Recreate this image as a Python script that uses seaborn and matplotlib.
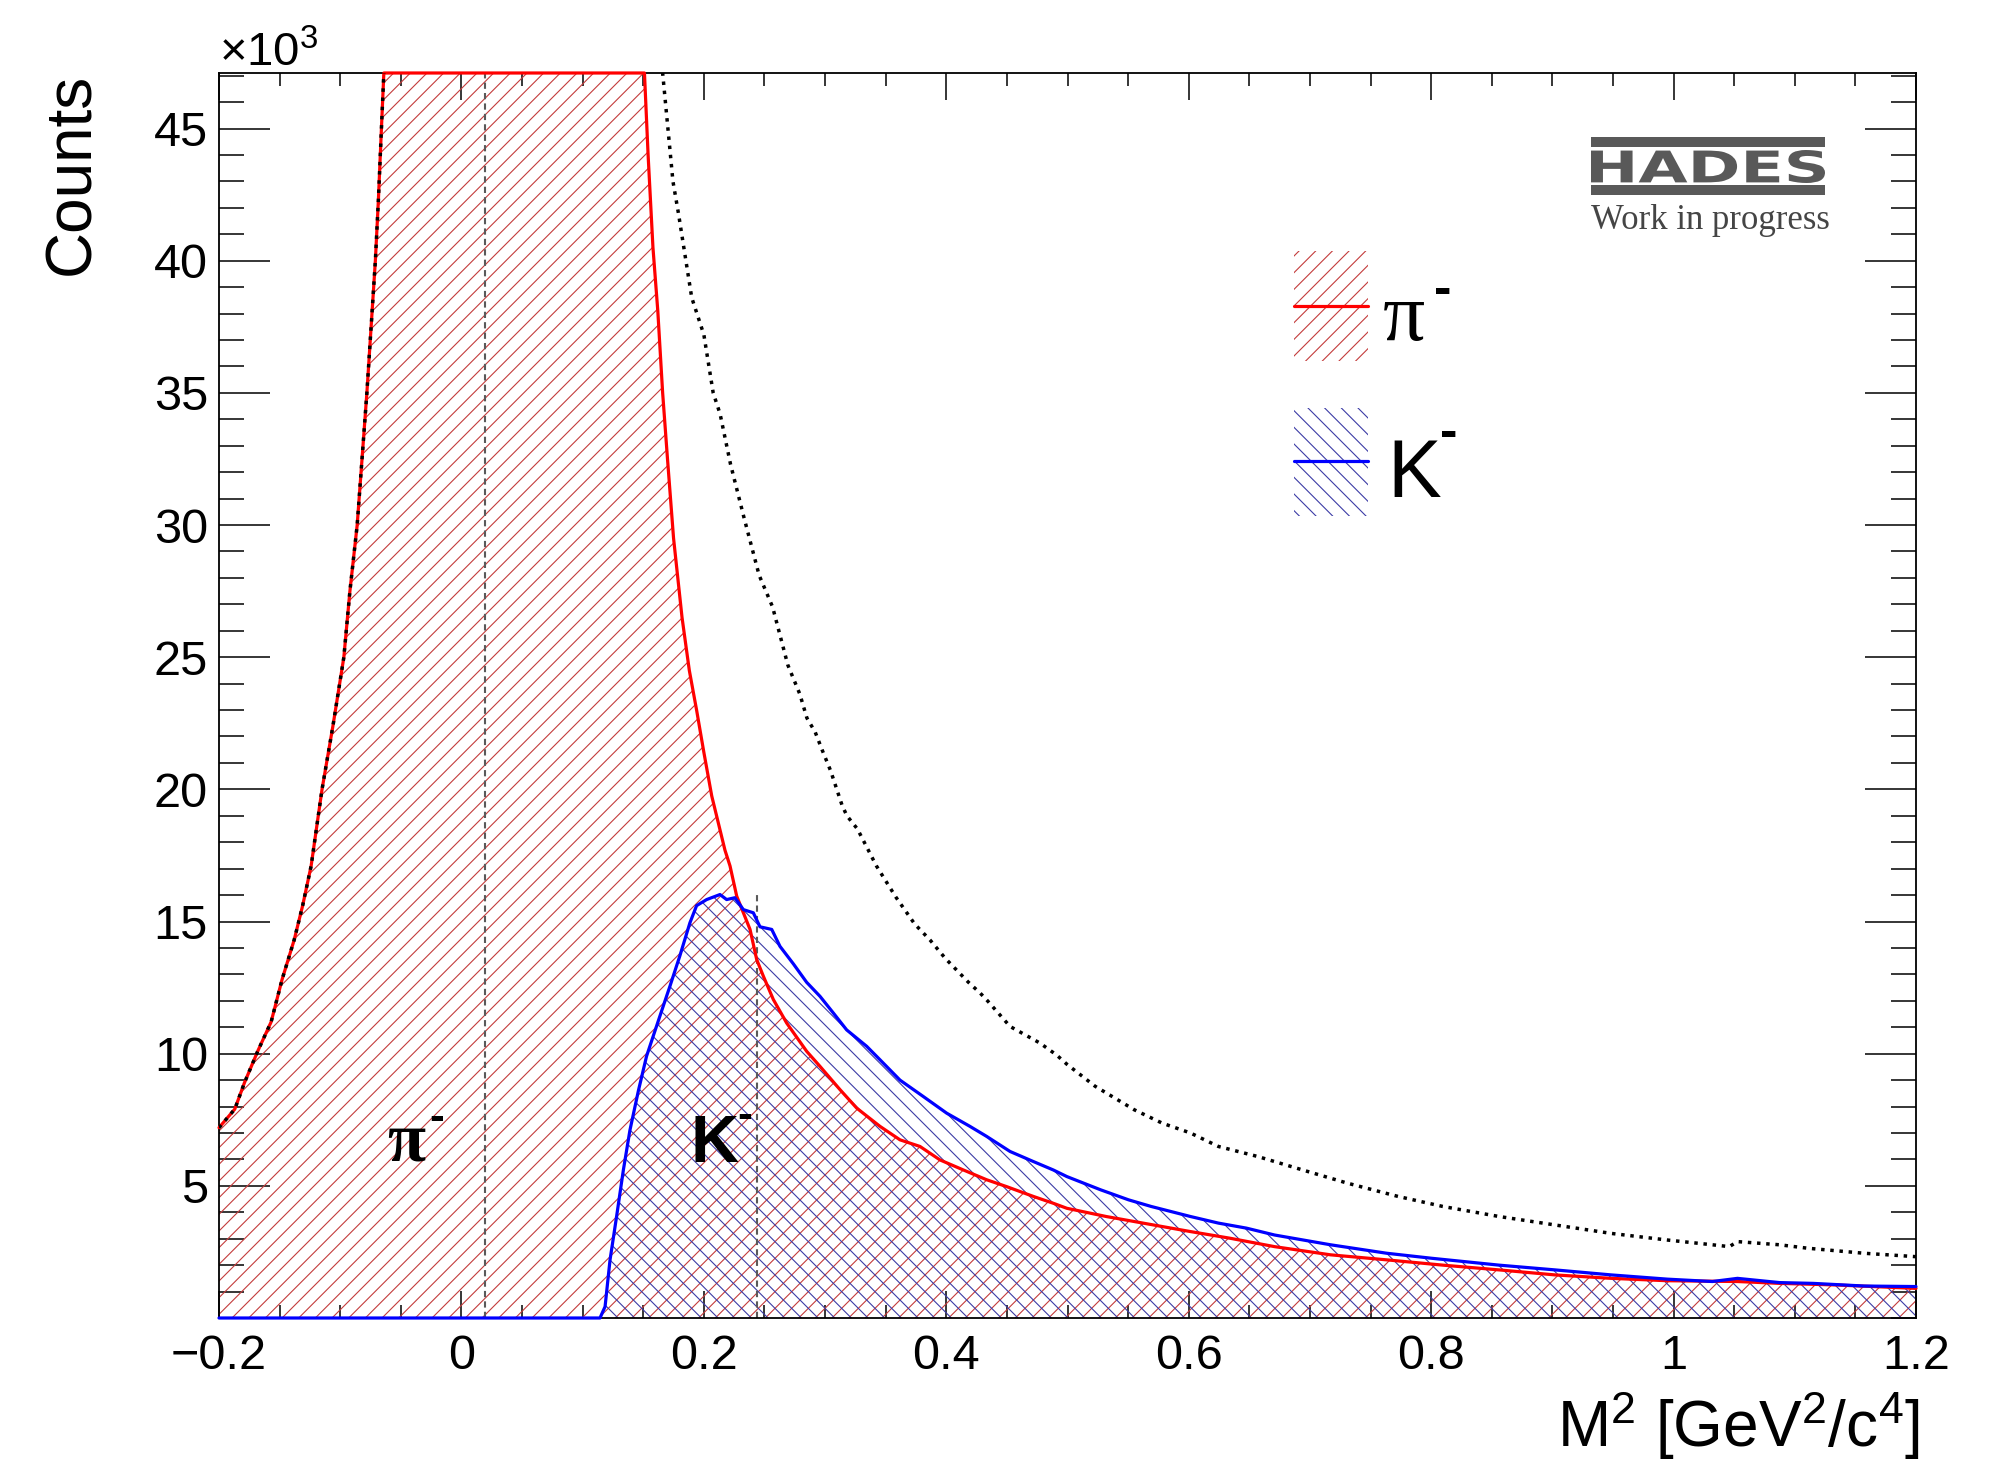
import numpy as np
import matplotlib
matplotlib.use("Agg")
import matplotlib.pyplot as plt
import seaborn as sns
from matplotlib.ticker import MultipleLocator, FixedLocator
from matplotlib.patches import Rectangle, PathPatch
from matplotlib.lines import Line2D
from matplotlib.textpath import TextPath
from matplotlib.font_manager import FontProperties
from matplotlib.transforms import Affine2D

# ---------------------------------------------------------------------------
# Squared-mass spectra (M^2 in GeV^2/c^4, counts in units of 10^3)
# ---------------------------------------------------------------------------
pion_m2 = [-0.200, -0.187, -0.179, -0.168, -0.157, -0.148, -0.138, -0.131, -0.124,
           -0.115, -0.106, -0.097, -0.092, -0.086, -0.082, -0.078, -0.0745, -0.071,
           -0.0685, -0.066, -0.064, -0.050, -0.020, 0.020, 0.060, 0.100, 0.130, 0.148,
           0.151, 0.154, 0.158, 0.162, 0.166, 0.170, 0.175, 0.182, 0.188, 0.194, 0.200,
           0.2065, 0.2174, 0.2216, 0.2271, 0.2326, 0.2381, 0.2436, 0.2491, 0.2573,
           0.2683, 0.2848, 0.2958, 0.3123, 0.3261, 0.3453, 0.3618, 0.3783, 0.3948,
           0.4141, 0.4333, 0.4498, 0.4718, 0.4883, 0.4995, 0.5319, 0.555, 0.5782,
           0.6014, 0.6338, 0.6708, 0.717, 0.7633, 0.8096, 0.856, 0.9022, 0.9486,
           0.9949, 1.0527, 1.0874, 1.134, 1.200]
pion_counts = [7.2, 7.9, 8.9, 10.1, 11.2, 12.8, 14.3, 15.6, 17.1,
               20.0, 22.4, 25.0, 27.5, 30.0, 32.5, 35.0, 37.5, 40.0,
               42.3, 45.0, 47.1, 58.0, 85.0, 110.0, 95.0, 72.0, 56.0, 48.5,
               47.1, 44.0, 40.5, 38.1, 35.0, 32.5, 29.5, 26.5, 24.5, 23.0, 21.4,
               19.75, 17.7, 17.1, 15.96, 15.33, 14.7, 13.56, 12.93, 12.05,
               11.16, 10.09, 9.52, 8.64, 7.94, 7.25, 6.74, 6.49, 5.98,
               5.6, 5.23, 4.97, 4.6, 4.34, 4.15, 3.84, 3.65, 3.46,
               3.27, 3.02, 2.7, 2.39, 2.2, 2.0, 1.82, 1.63, 1.5,
               1.41, 1.38, 1.31, 1.25, 1.12]

kaon_m2 = [-0.200, 0.1143, 0.1185, 0.1226, 0.128, 0.1336, 0.139, 0.146, 0.1527,
           0.1582, 0.1665, 0.172, 0.1802, 0.1885, 0.194, 0.2023, 0.2133, 0.2188,
           0.2256, 0.2326, 0.2408, 0.2463, 0.256, 0.2628, 0.2738, 0.2848, 0.2958,
           0.3068, 0.3178, 0.3343, 0.3453, 0.3618, 0.381, 0.4003, 0.4195, 0.4333,
           0.4526, 0.4718, 0.4883, 0.4995, 0.5273, 0.5504, 0.569, 0.6014, 0.6245,
           0.6476, 0.6708, 0.717, 0.7633, 0.8004, 0.856, 0.9022, 0.9486, 0.9949,
           1.032, 1.0527, 1.0874, 1.1152, 1.157, 1.200]
kaon_counts = [0.0, 0.0, 0.43, 2.2, 3.84, 5.6, 7.1, 8.6, 9.9,
               10.66, 11.8, 12.55, 13.7, 14.95, 15.6, 15.83, 16.02, 15.83,
               15.9, 15.45, 15.33, 14.8, 14.7, 14.06, 13.4, 12.7, 12.17,
               11.54, 10.9, 10.28, 9.77, 9.0, 8.38, 7.75, 7.25, 6.87,
               6.3, 5.92, 5.6, 5.35, 4.85, 4.47, 4.22, 3.84, 3.59,
               3.4, 3.14, 2.77, 2.45, 2.26, 2.0, 1.82, 1.63, 1.47,
               1.38, 1.5, 1.34, 1.31, 1.21, 1.19]

total_m2 = [-0.200, -0.187, -0.179, -0.168, -0.157, -0.148, -0.138, -0.131, -0.124,
            -0.115, -0.106, -0.097, -0.092, -0.086, -0.082, -0.078, -0.0745, -0.071,
            -0.0685, -0.066, -0.064, -0.050, -0.020, 0.020, 0.060, 0.100, 0.130, 0.155,
            0.166, 0.1745, 0.179, 0.190, 0.200, 0.2077, 0.2134, 0.222, 0.233, 0.2456,
            0.2567, 0.2693, 0.2792, 0.285, 0.2919, 0.2975, 0.3046, 0.314, 0.318,
            0.3267, 0.3424, 0.3583, 0.374, 0.3866, 0.3993, 0.4183, 0.4278, 0.434,
            0.4526, 0.4773, 0.491, 0.4995, 0.5227, 0.555, 0.5782, 0.6014, 0.6245,
            0.6569, 0.694, 0.731, 0.7726, 0.8096, 0.856, 0.9022, 0.9486, 0.9949,
            1.032, 1.046, 1.0527, 1.0874, 1.1106, 1.157, 1.200]
total_counts = [7.2, 7.9, 8.9, 10.1, 11.2, 12.8, 14.3, 15.6, 17.1,
                20.0, 22.4, 25.0, 27.5, 30.0, 32.5, 35.0, 37.5, 40.0,
                42.3, 45.0, 47.1, 58.0, 85.0, 110.0, 95.0, 72.0, 62.0, 53.0,
                47.1, 43.0, 41.8, 38.6, 37.2, 35.0, 34.2, 32.3, 30.3, 28.1,
                26.9, 24.7, 23.6, 22.7, 22.16, 21.5, 20.7, 19.4, 19.0,
                18.5, 17.1, 15.93, 14.9, 14.3, 13.6, 12.7, 12.3, 12.0,
                11.03, 10.4, 9.95, 9.6, 8.77, 7.88, 7.37, 7.0, 6.49,
                6.11, 5.6, 5.1, 4.6, 4.22, 3.84, 3.52, 3.2, 2.95,
                2.77, 2.7, 2.89, 2.77, 2.64, 2.45, 2.32]

# nominal squared masses of the two species
M2_PION = 0.0195
M2_KAON = 0.2437

x_ticks = [-0.2, 0.0, 0.2, 0.4, 0.6, 0.8, 1.0, 1.2]
x_tick_labels = ["\u22120.2", "0", "0.2", "0.4", "0.6", "0.8", "1", "1.2"]
y_ticks = [5, 10, 15, 20, 25, 30, 35, 40, 45]

X_RANGE = (-0.2, 1.2)
Y_MAX = 47.1

# ---------------------------------------------------------------------------
sns.set_theme(style="ticks")
plt.rcParams["font.family"] = ["Liberation Sans", "DejaVu Sans"]
plt.rcParams["mathtext.fontset"] = "custom"
plt.rcParams["mathtext.rm"] = "Liberation Sans"
plt.rcParams["mathtext.it"] = "Liberation Sans:italic"
plt.rcParams["mathtext.bf"] = "Liberation Sans:bold"
plt.rcParams["hatch.linewidth"] = 0.8
plt.rcParams["axes.edgecolor"] = "black"
plt.rcParams["axes.linewidth"] = 1.3

W, H = 1999, 1477
fig = plt.figure(figsize=(W / 100, H / 100), dpi=100)
fig.patch.set_facecolor("white")
ax = fig.add_axes([219 / W, 1 - 1318 / H, (1916 - 219) / W, (1318 - 73) / H])
ax.set_facecolor("white")


def fx(px):
    return px / W


def fy(py):
    return 1 - py / H


RED = "#ff0000"
BLUE = "#0000ff"
PI_HATCH = "#c43c3c"
K_HATCH = "#3c3ca6"
MARK_GREY = "#5a5a5a"
SERIF = ["Liberation Serif", "DejaVu Serif"]

pion_draw = np.minimum(np.array(pion_counts), Y_MAX)

# hatched areas
ax.fill_between(pion_m2, 0, pion_draw, facecolor="none", edgecolor=PI_HATCH,
                hatch="//", linewidth=0, zorder=1)
ax.fill_between(kaon_m2, 0, kaon_counts, facecolor="none", edgecolor=K_HATCH,
                hatch="\\\\", linewidth=0, zorder=1.1)

# nominal mass markers
ax.axvline(M2_PION, color=MARK_GREY, lw=1.5, ls=(0, (3, 2)), zorder=1.5)
ax.vlines(M2_KAON, 0, max(kaon_counts), color=MARK_GREY, lw=1.5,
          linestyles=[(0, (3, 2))], zorder=1.5)

# outlines
sns.lineplot(x=pion_m2, y=pion_draw, ax=ax, color=RED, lw=2.3, sort=False,
             estimator=None, zorder=4, clip_on=False)
sns.lineplot(x=kaon_m2, y=kaon_counts, ax=ax, color=BLUE, lw=2.3, sort=False,
             estimator=None, zorder=4.5, clip_on=False)
sns.lineplot(x=total_m2, y=total_counts, ax=ax, color="black", lw=2.5, ls=":",
             sort=False, estimator=None, zorder=5)

ax.set_xlim(*X_RANGE)
ax.set_ylim(0, Y_MAX)

# ticks on all four sides, pointing inwards
ax.xaxis.set_major_locator(FixedLocator(x_ticks))
ax.set_xticklabels(x_tick_labels)
ax.xaxis.set_minor_locator(MultipleLocator(0.05))
ax.set_yticks(y_ticks)
ax.set_yticklabels([str(v) for v in y_ticks])
ax.yaxis.set_minor_locator(MultipleLocator(1))
ax.tick_params(axis="y", which="major", direction="in", length=36.7, width=1.1,
               left=True, right=True, labelsize=35, pad=8, color="black")
ax.tick_params(axis="y", which="minor", direction="in", length=18, width=1.1,
               left=True, right=True, color="black")
ax.tick_params(axis="x", which="major", direction="in", length=19.4, width=1.1,
               top=True, bottom=True, labelsize=35, pad=11.5, color="black")
ax.tick_params(axis="x", which="minor", direction="in", length=9.4, width=1.1,
               top=True, bottom=True, color="black")
for lab in ax.get_xticklabels() + ax.get_yticklabels():
    lab.set_color("black")
for sp in ax.spines.values():
    sp.set_visible(True)
    sp.set_color("black")
    sp.set_zorder(3)

# axis titles
ax.set_ylabel("Counts", fontsize=46, color="black", loc="top")
ax.yaxis.set_label_coords(-0.069, 1.0)
ax.set_xlabel("M$^{2}$ [GeV$^{2}$/c$^{4}$]", fontsize=46, color="black", loc="right")
ax.xaxis.set_label_coords(1.002, -0.057)

ax.annotate("\u00d710$^{3}$", xy=(0, 1), xycoords="axes fraction", xytext=(0, 5),
            textcoords="offset points", fontsize=34, ha="left", va="baseline",
            color="black")

# species labels inside the frame
ax.text(-0.0453, 5.95, "\u03c0", family=SERIF,
        fontsize=50, fontweight="bold", ha="center", va="baseline", color="black")
ax.text(-0.0205, 7.1, "-", fontsize=32, fontweight="bold", ha="center",
        va="baseline", color="black")
ax.text(0.1886, 5.92, "K", fontsize=48, fontweight="bold", ha="left",
        va="baseline", color="black")
ax.text(0.2335, 7.2, "-", fontsize=32, fontweight="bold", ha="center",
        va="baseline", color="black")

# legend block
for top, bottom, hc, hatch, lc, ly in [(251, 361, PI_HATCH, "//", RED, 306),
                                       (408, 516, K_HATCH, "\\\\", BLUE, 461)]:
    fig.patches.append(Rectangle((fx(1294), fy(bottom)), fx(1368) - fx(1294),
                                 fy(top) - fy(bottom), transform=fig.transFigure,
                                 facecolor="none", edgecolor=hc, hatch=hatch,
                                 linewidth=0))
    fig.lines.append(Line2D([fx(1294), fx(1368)], [fy(ly), fy(ly)],
                            transform=fig.transFigure, color=lc, lw=2.3))
fig.text(fx(1383), fy(340), "\u03c0", family=SERIF,
         fontsize=60, ha="left", va="baseline", color="black")
fig.text(fx(1443), fy(290 + 15), "-", fontsize=38, fontweight="bold",
         ha="center", va="baseline", color="black")
fig.text(fx(1387), fy(497), "K", fontsize=58, ha="left", va="baseline", color="black")
fig.text(fx(1449), fy(433 + 15), "-", fontsize=38, fontweight="bold",
         ha="center", va="baseline", color="black")

# experiment tag
LOGO_GREY = "#595959"
fig.patches.append(Rectangle((fx(1591), fy(147)), fx(1825) - fx(1591),
                             fy(137) - fy(147), transform=fig.transFigure,
                             facecolor=LOGO_GREY, edgecolor="none"))
fig.patches.append(Rectangle((fx(1591), fy(195)), fx(1825) - fx(1591),
                             fy(185) - fy(195), transform=fig.transFigure,
                             facecolor=LOGO_GREY, edgecolor="none"))
tp = TextPath((0, 0), "HADES", size=1,
              prop=FontProperties(family="DejaVu Sans", weight="bold"))
bb = tp.get_extents()
logo_tf = (Affine2D().translate(-bb.x0, -bb.y0)
           .scale((fx(1825) - fx(1591)) / bb.width, (fy(150) - fy(183)) / bb.height)
           .translate(fx(1591), fy(183)))
fig.patches.append(PathPatch(tp, transform=logo_tf + fig.transFigure,
                             facecolor=LOGO_GREY, edgecolor="none"))
fig.text(fx(1591), fy(229), "Work in progress", family=SERIF, fontsize=25,
         color="#454545", ha="left", va="baseline")

fig.savefig("out.png", dpi=100, facecolor="white")
